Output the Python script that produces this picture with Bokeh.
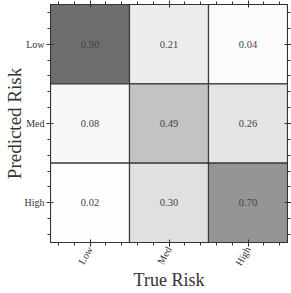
import numpy as np
from bokeh.plotting import figure
from bokeh.models import Range1d, LinearAxis, FixedTicker, ColumnDataSource, LinearColorMapper, CustomJSTickFormatter
from bokeh.transform import transform
from bokeh.core.properties import value
from bokeh.embed import file_html
from bokeh.resources import INLINE

# data
true_labels = ["Low", "Med", "High"]
pred_labels = ["Low", "Med", "High"]
row_low = [0.90, 0.21, 0.04]
row_med = [0.08, 0.49, 0.26]
row_high = [0.02, 0.30, 0.70]
matrix = [row_low, row_med, row_high]

xs, ys, vals, txt = [], [], [], []
for i, row in enumerate(matrix):
    for j, v in enumerate(row):
        xs.append(j + 0.5)
        ys.append(i + 0.5)
        vals.append(v)
        txt.append("%.2f" % v)
src = ColumnDataSource(dict(x=xs, y=ys, v=vals, t=txt))

# matplotlib-like "Greys" ramp (white -> black)
anchors = [255, 240, 217, 189, 150, 115, 82, 37, 0]
pos = np.linspace(0, 1, 256)
grey = np.interp(pos, np.linspace(0, 1, len(anchors)), anchors)
pal = []
for g in grey:
    c = int(round(g))
    pal.append("#%02x%02x%02x" % (c, c, c))
mapper = LinearColorMapper(palette=pal, low=0.0, high=1.4)

FONT = "Liberation Serif"
p = figure(width=291, height=293, output_backend="svg", toolbar_location=None,
           x_range=Range1d(0, 3), y_range=Range1d(3, 0),
           x_axis_location="below", y_axis_location="left",
           min_border_left=47, min_border_right=4, min_border_top=3, min_border_bottom=40)
p.grid.visible = False
p.outline_line_color = "#333333"
p.background_fill_color = "white"
p.border_fill_color = "white"

p.rect(x="x", y="y", width=1, height=1, source=src,
       fill_color=transform("v", mapper), line_color="#3a3a3a", line_width=1.2)
p.text(x="x", y="y", text="t", source=src, text_align="center", text_baseline="middle",
       text_font=value(FONT), text_font_size="10.5px", text_color="#444444")

ticker = FixedTicker(ticks=[0.5, 1.5, 2.5], minor_ticks=list(np.arange(0.1, 3.0, 0.2)))

def style(ax, labels, show):
    ax.ticker = ticker
    ax.major_tick_in = 3
    ax.major_tick_out = 4
    ax.minor_tick_in = 0
    ax.minor_tick_out = 3
    ax.axis_line_color = "#333333"
    ax.major_tick_line_color = "#333333"
    ax.minor_tick_line_color = "#333333"
    if show:
        ax.major_label_overrides = {0.5: labels[0], 1.5: labels[1], 2.5: labels[2]}
        ax.major_label_text_font = FONT
        ax.major_label_text_font_size = "10px"
        ax.major_label_text_color = "#333333"
        ax.axis_label_text_font = FONT
        ax.axis_label_text_font_style = "normal"
        ax.axis_label_text_color = "#333333"
    else:
        ax.formatter = CustomJSTickFormatter(code="return ''")
        ax.major_label_standoff = 0

xa = p.xaxis[0]
style(xa, true_labels, True)
xa.axis_label = "True Risk"
xa.axis_label_text_font_size = "18px"
xa.major_label_orientation = np.pi / 3
xa.major_label_standoff = 1
xa.axis_label_standoff = -3

ya = p.yaxis[0]
style(ya, pred_labels, True)
ya.axis_label = "Predicted Risk"
ya.axis_label_text_font_size = "19px"
ya.major_label_standoff = 2
ya.axis_label_standoff = -3

top = LinearAxis()
style(top, None, False)
p.add_layout(top, "above")
right = LinearAxis()
style(right, None, False)
p.add_layout(right, "right")

open("out.html", "w").write(file_html(p, INLINE))
